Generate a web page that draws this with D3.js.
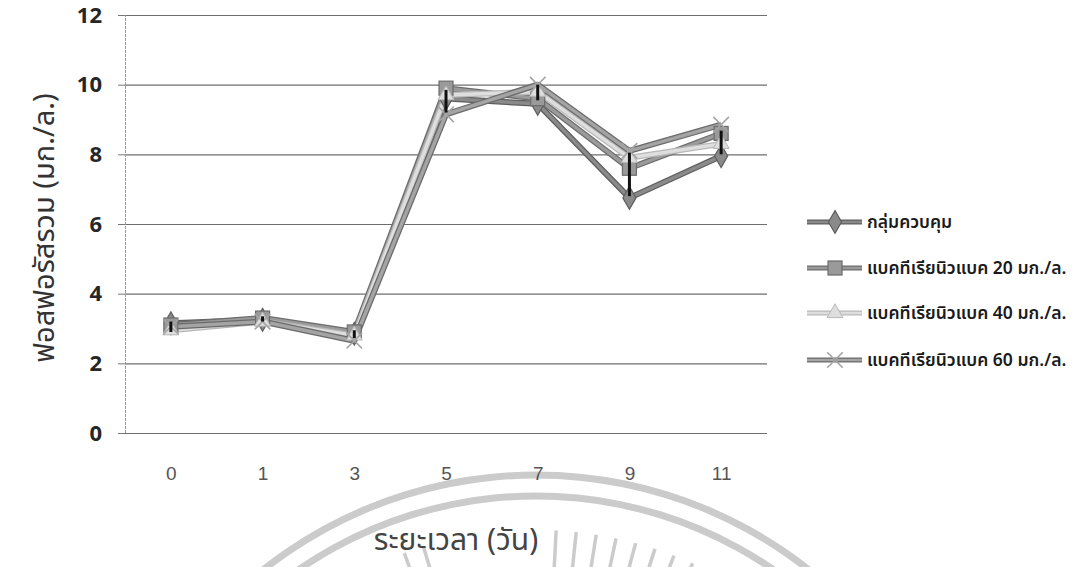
<!DOCTYPE html>
<html>
<head>
<meta charset="utf-8">
<script src="https://cdn.jsdelivr.net/npm/d3@7"></script>
<style>
  html, body { margin: 0; padding: 0; background: #fff; }
  svg { display: block; }
  .thai { font-family: "Noto Sans Thai", "Loma", "Tahoma", "Garuda", "Norasi", "DejaVu Sans", sans-serif; }
</style>
</head>
<body>
<svg id="chart" width="1083" height="567"></svg>
<script>
// ---------------- data ----------------
const days = ["0", "1", "3", "5", "7", "9", "11"];
const seriesNames = ["กลุ่มควบคุม", "แบคทีเรียนิวแบค 20 มก./ล.", "แบคทีเรียนิวแบค 40 มก./ล.", "แบคทีเรียนิวแบค 60 มก./ล."];
const control = [3.15, 3.25, 2.85, 9.6, 9.45, 6.75, 7.95];
const bact20  = [3.1, 3.3, 2.9, 9.9, 9.6, 7.6, 8.6];
const bact40  = [2.95, 3.2, 2.8, 9.7, 9.8, 7.9, 8.3];
const bact60  = [3.05, 3.2, 2.65, 9.15, 10.0, 8.1, 8.85];
const errLow  = [2.9, 3.2, 2.72, 9.2, 9.55, 6.8, 8.0];
const errHigh = [3.2, 3.35, 2.95, 9.85, 10.0, 8.05, 8.68];
const yTicks = [0, 2, 4, 6, 8, 10, 12];
const yTitle = "ฟอสฟอรัสรวม (มก./ล.)";
const xTitle = "ระยะเวลา (วัน)";

// ---------------- layout ----------------
const svg = d3.select("#chart");
const plotLeft = 125, plotRight = 767, plotTop = 15, plotBottom = 433;

const x = d3.scalePoint().domain(days).range([plotLeft, plotRight]).padding(0.5);
const y = d3.scaleLinear().domain([0, 12]).range([plotBottom, plotTop]);

// ---------------- watermark (seal) ----------------
const wm = svg.append("g").attr("fill", "none").attr("stroke", "#cbcbcb");
const wcx = 536, wcy = 915;
[440, 419].forEach(r => {
  wm.append("path").attr("transform", `translate(${wcx},${wcy})`)
    .attr("d", d3.arc().innerRadius(r - 3.5).outerRadius(r + 3.5).startAngle(-0.8).endAngle(0.8)())
    .attr("fill", "#cbcbcb").attr("stroke", "none");
});
const rays = [-20, -17, 3, 6, 9, 12, 15, 18, 21, 24];
rays.forEach(a => {
  const t = a * Math.PI / 180;
  wm.append("line")
    .attr("x1", wcx + 345 * Math.sin(t)).attr("y1", wcy - 345 * Math.cos(t))
    .attr("x2", wcx + 385 * Math.sin(t)).attr("y2", wcy - 385 * Math.cos(t))
    .attr("stroke-width", 3.5);
});

// ---------------- grid & axes ----------------
const grid = svg.append("g").attr("transform", `translate(${plotLeft},0)`)
  .call(d3.axisLeft(y).tickValues(yTicks).tickSize(-(plotRight - plotLeft)).tickFormat(""));
grid.select(".domain").remove();
grid.selectAll("line").attr("stroke", "#6e6e6e").attr("stroke-width", 1.2);

const yAxis = svg.append("g").attr("transform", `translate(${plotLeft},0)`)
  .call(d3.axisLeft(y).tickValues(yTicks).tickSize(7).tickPadding(16));
yAxis.select(".domain").attr("stroke", "#9a9a9a").attr("stroke-dasharray", "3,1");
yAxis.selectAll(".tick line").attr("stroke", "#777");
yAxis.selectAll("text").attr("font-family", "Open Sans, Liberation Sans, sans-serif")
  .attr("font-size", 22).attr("font-weight", "bold").attr("fill", "#262626");

const xAxis = svg.append("g").attr("transform", `translate(0,${plotBottom})`)
  .call(d3.axisBottom(x).tickSize(0).tickPadding(34));
xAxis.select(".domain").remove();
xAxis.selectAll("text").attr("font-family", "Liberation Sans, Arial, sans-serif")
  .attr("font-size", 19).attr("fill", "#555");

// ---------------- titles ----------------
svg.append("text").attr("class", "thai")
  .attr("transform", "translate(54,228) rotate(-90)")
  .attr("text-anchor", "middle").attr("font-size", 29).attr("fill", "#333")
  .text(yTitle);
svg.append("text").attr("class", "thai")
  .attr("x", 456).attr("y", 550)
  .attr("text-anchor", "middle").attr("font-size", 30).attr("fill", "#444")
  .text(xTitle);

// ---------------- series ----------------
const series = [
  {name: seriesNames[0], values: control, edge: "#5e5e5e", fill: "#8a8a8a", marker: "diamond"},
  {name: seriesNames[1], values: bact20,  edge: "#6c6c6c", fill: "#9a9a9a", marker: "square"},
  {name: seriesNames[2], values: bact40,  edge: "#b8b8b8", fill: "#dedede", marker: "triangle"},
  {name: seriesNames[3], values: bact60,  edge: "#6a6a6a", fill: "#a4a4a4", marker: "x"}
];

const line = d3.line().x((d, i) => x(days[i])).y(d => y(d));

function drawMarker(g, type, s) {
  if (type === "diamond") {
    g.append("path").attr("d", d3.symbol(d3.symbolDiamond, 150)())
      .attr("fill", s.fill).attr("stroke", s.edge).attr("stroke-width", 1.2);
  } else if (type === "square") {
    g.append("rect").attr("x", -7).attr("y", -7).attr("width", 14).attr("height", 14)
      .attr("fill", s.fill).attr("stroke", s.edge).attr("stroke-width", 1.2);
  } else if (type === "triangle") {
    g.append("path").attr("d", d3.symbol(d3.symbolTriangle, 110)())
      .attr("fill", s.fill).attr("stroke", s.edge).attr("stroke-width", 1);
  } else {
    g.append("path").attr("d", d3.symbol(d3.symbolX, 160)())
      .attr("fill", "none").attr("stroke", s.fill).attr("stroke-width", 1.6);
  }
}

const plot = svg.append("g");
series.forEach(s => {
  plot.append("path").datum(s.values).attr("d", line)
    .attr("fill", "none").attr("stroke", s.edge).attr("stroke-width", 6).attr("stroke-linejoin", "round");
  plot.append("path").datum(s.values).attr("d", line)
    .attr("fill", "none").attr("stroke", s.fill).attr("stroke-width", 3.5).attr("stroke-linejoin", "round");
});
series.forEach(s => {
  s.values.forEach((v, i) => {
    const g = plot.append("g").attr("transform", `translate(${x(days[i])},${y(v)})`);
    drawMarker(g, s.marker, s);
  });
});

// error bars
plot.selectAll(".err").data(days).enter().append("line").attr("class", "err")
  .attr("x1", d => x(d)).attr("x2", d => x(d))
  .attr("y1", (d, i) => y(errLow[i])).attr("y2", (d, i) => y(errHigh[i]))
  .attr("stroke", "#111").attr("stroke-width", 3);

// ---------------- legend ----------------
const legY = [222, 268, 313, 360];
const leg = svg.append("g");
series.forEach((s, i) => {
  const g = leg.append("g").attr("transform", `translate(0,${legY[i]})`);
  g.append("line").attr("x1", 807).attr("x2", 862).attr("y1", 0).attr("y2", 0)
    .attr("stroke", s.edge).attr("stroke-width", 5);
  g.append("line").attr("x1", 807).attr("x2", 862).attr("y1", 0).attr("y2", 0)
    .attr("stroke", s.fill).attr("stroke-width", 2.5);
  const m = g.append("g").attr("transform", "translate(835,0)");
  drawMarker(m, s.marker, s);
  g.append("text").attr("class", "thai").attr("x", 867).attr("y", 0).attr("dy", "0.35em")
    .attr("font-size", 17.5).attr("font-weight", 600).attr("fill", "#1a1a1a").text(s.name);
});
</script>
</body>
</html>
